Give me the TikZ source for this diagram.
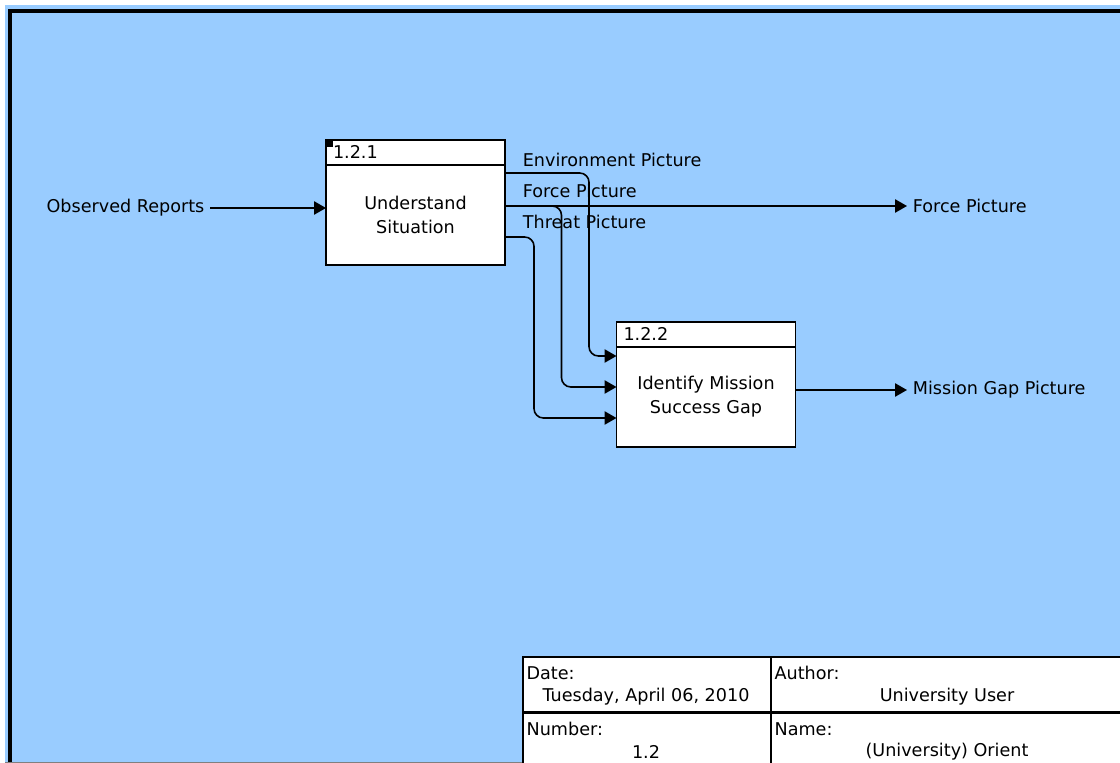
\documentclass[tikz,border=0pt]{standalone}
\usepackage{fontspec}
\setmainfont{DejaVu Sans}
\usepackage{tikz}
\usetikzlibrary{arrows.meta, positioning}
\definecolor{sheetblue}{RGB}{153, 204, 255}

\begin{document}
\begin{tikzpicture}[
  x=0.75pt, y=-0.75pt,
  font=\fontsize{13.2}{18}\selectfont,
  proc/.style={draw, line width=1.3pt, fill=white, outer sep=0pt,
               minimum width=134.25pt, minimum height=75pt, align=center},
  hdr/.style={draw, line width=1.3pt, fill=white, outer sep=0pt,
              inner xsep=5.25pt, inner ysep=0pt, text width=123.75pt,
              minimum height=19pt, align=left},
  flow/.style={-{Triangle[length=9pt, width=10pt]}, line width=1.2pt},
  lbl/.style={inner sep=4.2pt},
  cell/.style={inner sep=1pt}]
  \useasboundingbox (0,0) rectangle (1120,763);
  \fill[white] (0,0) rectangle (1120,763);
  \fill[sheetblue] (5,5) rectangle (1120,763);
  \draw[line width=3pt] (10,763) -- (10,11) -- (1120,11);
  \draw[gray, line width=0.75pt] (5,762.5) -- (1120,762.5);
  % activities
  \node[proc] (understand) at (415.5,215) {Understand\\Situation};
  \node[hdr, above=0pt of understand] (numA) {1.2.1};
  \fill (numA.north west) rectangle ++(7,7);
  \node[proc] (identify) at (706,397) {Identify Mission\\Success Gap};
  \node[hdr, above=0pt of identify] (numB) {1.2.2};
  % boundary texts
  \node[lbl] (obsin) at (125.5,208) {Observed Reports};
  \node[lbl, anchor=west] (forceout) at (907,206) {Force Picture};
  \node[lbl, anchor=west] (gapout) at (907,390) {Mission Gap Picture};
  \node[lbl, anchor=west] (envlbl) at (517,160) {Environment Picture};
  \node[lbl, anchor=west] (forcelbl) at (517,191) {Force Picture};
  \node[lbl, anchor=west] (threatlbl) at (517,222) {Threat Picture};
  % arrows
  \draw[flow] (obsin.east) -- (obsin.east -| understand.west);
  \draw[flow] (understand.east |- forceout.west) -- (forceout.west);
  \draw[flow, rounded corners=7pt] ([yshift=-6pt]understand.north east)
    -- ++(84,0) |- ([yshift=30.75pt]identify.west);
  \draw[flow, rounded corners=7pt] (understand.east |- forceout.west)
    -- ++(56.5,0) |- ([yshift=7.5pt]identify.west);
  \draw[flow, rounded corners=7pt] ([yshift=-16.5pt]understand.east)
    -- ++(29,0) |- ([yshift=-15.75pt]identify.west);
  \draw[flow] (identify.east |- gapout.west) -- (gapout.west);
  % title block
  \draw[fill=white, line width=2pt] (523,657) rectangle (1124,775);
  \draw[line width=2pt] (771,657) -- (771,775);
  \draw[line width=2pt] (523,712.5) -- (1124,712.5);
  \node[cell, anchor=west] (datehd) at (525,673) {Date:};
  \node[cell] (dateval) at (646,697) {Tuesday, April 06, 2010};
  \node[cell, anchor=west] (numhd) at (525,729) {Number:};
  \node[cell] (numval) at (646,752) {1.2};
  \node[cell, anchor=west] (authhd) at (773,673) {Author:};
  \node[cell] (authval) at (947,697) {University User};
  \node[cell, anchor=west] (namehd) at (773,729) {Name:};
  \node[cell] (nameval) at (947,752) {(University) Orient};
\end{tikzpicture}
\end{document}
